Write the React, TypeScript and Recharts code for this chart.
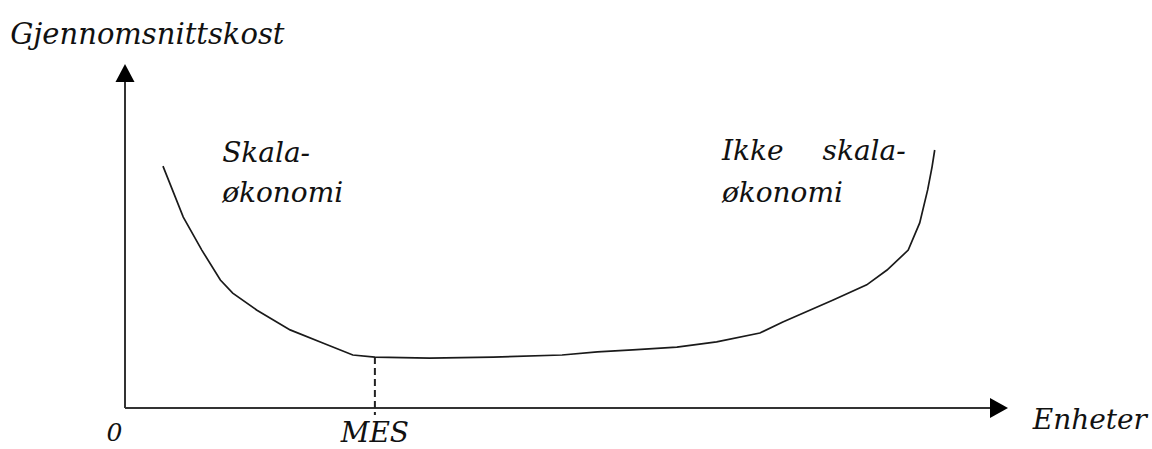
import React from "react";
import { LineChart, Line, XAxis, YAxis, ReferenceLine, ReferenceDot } from "recharts";

// Average cost curve (units produced vs average cost, arbitrary units)
const quantity = [4.3, 6.6, 8.7, 10.8, 12.2, 14.9, 18.7, 22.4, 25.8, 28.3, 34.5, 41.7, 49.5, 53.5, 57.5, 62.5, 67.0, 71.9, 74.5, 80.2, 84.0, 86.3, 88.7, 90.0, 90.9, 91.4, 91.7];
const averageCost = [70.3, 55.5, 45.9, 37.2, 33.4, 28.5, 22.7, 18.9, 15.4, 14.8, 14.5, 14.8, 15.4, 16.3, 16.9, 17.7, 19.2, 21.8, 25.0, 31.4, 35.8, 40.1, 45.9, 53.8, 63.4, 70.1, 75.0];

const mesQuantity = 28.3;
const mesCost = 14.8;

const annotationTexts = ["Gjennomsnittskost", "Skala-", "økonomi", "Ikke", "skala-", "økonomi", "0", "MES", "Enheter"];
const annotationX = [-13.0, 11.0, 11.0, 67.6, 79.0, 67.6, -2.1, 28.3, 102.8];
const annotationY = [105.8, 71.5, 59.9, 72.1, 72.1, 59.9, -9.6, -9.8, -6.1];
const annotationAnchor = ["start", "start", "start", "start", "start", "start", "start", "middle", "start"];
const annotationSize = [29, 28, 28, 28, 28, 28, 25, 28, 28];

const data = quantity.map((q, i) => ({ q, c: averageCost[i] }));
const annotations = annotationTexts.map((t, i) => ({
  t,
  x: annotationX[i],
  y: annotationY[i],
  anchor: annotationAnchor[i],
  size: annotationSize[i],
}));

const FONT = "'DejaVu Serif', serif";
const AXIS = "#333";

const UpArrow = (props: any) => {
  const { cx, cy } = props;
  return <polygon points={`${cx},${cy} ${cx - 9.5},${cy + 18} ${cx + 9.5},${cy + 18}`} fill="#000" />;
};
const RightArrow = (props: any) => {
  const { cx, cy } = props;
  return <polygon points={`${cx},${cy} ${cx - 18},${cy - 10} ${cx - 18},${cy + 10}`} fill="#000" />;
};

const makeText = (a: any) => (props: any) => {
  const { cx, cy } = props;
  return (
    <text
      x={cx}
      y={cy}
      textAnchor={a.anchor}
      fontFamily={FONT}
      fontStyle="italic"
      fontSize={a.size}
      fill="#111"
    >
      {a.t}
    </text>
  );
};

export default function App() {
  return (
    <div style={{ position: "absolute", left: 0, top: 0, width: 1152, height: 449, background: "#fff" }}>
      <LineChart width={1152} height={449} data={data} margin={{ top: 64, left: 125, right: 144, bottom: 41 }}>
        <XAxis dataKey="q" type="number" domain={[0, 100]} allowDataOverflow hide />
        <YAxis dataKey="c" type="number" domain={[0, 100]} allowDataOverflow hide />
        <ReferenceLine
          segment={[{ x: 0, y: 0 }, { x: 0, y: 96 }]}
          stroke={AXIS}
          strokeWidth={2}
          ifOverflow="visible"
        />
        <ReferenceLine
          segment={[{ x: 0, y: 0 }, { x: 98, y: 0 }]}
          stroke={AXIS}
          strokeWidth={2}
          ifOverflow="visible"
        />
        <ReferenceLine
          segment={[{ x: mesQuantity, y: mesCost }, { x: mesQuantity, y: -2 }]}
          stroke="#222"
          strokeWidth={2}
          strokeDasharray="7 4"
          ifOverflow="visible"
        />
        <Line
          type="linear"
          dataKey="c"
          stroke="#1a1a1a"
          strokeWidth={1.7}
          dot={false}
          isAnimationActive={false}
        />
        <ReferenceDot x={0} y={100} r={0} ifOverflow="visible" shape={UpArrow} />
        <ReferenceDot x={100} y={0} r={0} ifOverflow="visible" shape={RightArrow} />
        {annotations.map((a, i) => (
          <ReferenceDot key={i} x={a.x} y={a.y} r={0} ifOverflow="visible" shape={makeText(a)} />
        ))}
      </LineChart>
    </div>
  );
}
